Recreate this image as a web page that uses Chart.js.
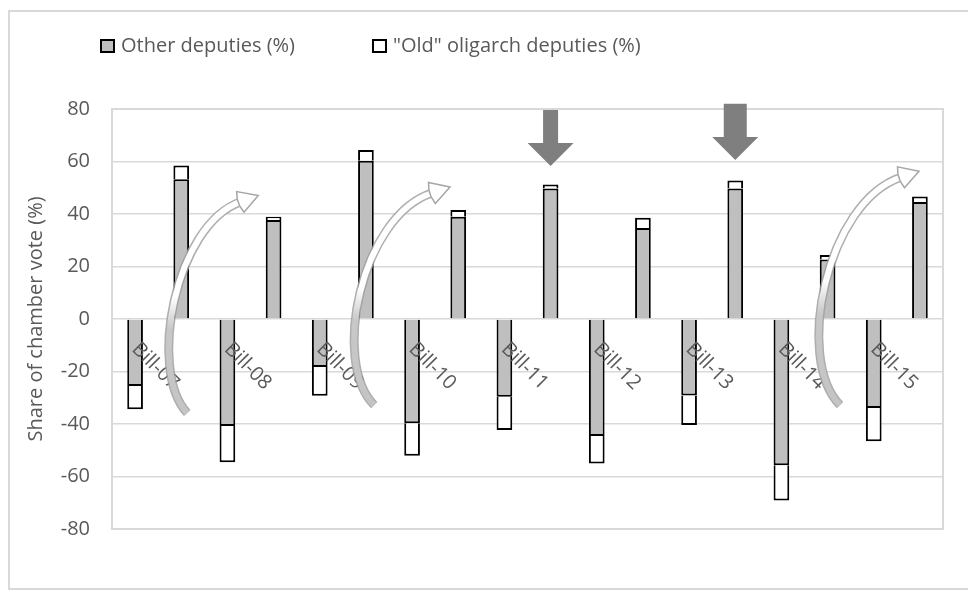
<!DOCTYPE html>
<html>
<head>
<meta charset="utf-8">
<script src="https://cdn.jsdelivr.net/npm/chart.js@4.4.1/dist/chart.umd.min.js"></script>
<style>
  body { margin: 0; background: #fff; overflow: hidden; }
  #frame { position: absolute; left: 8px; top: 10px; width: 1000px; height: 576px; border: 2px solid #d9d9d9; }
  #wrap { position: absolute; left: 0; top: 0; width: 968px; height: 592px; }
</style>
</head>
<body>
<div id="frame"></div>
<div id="wrap"><canvas id="chart" width="968" height="592"></canvas></div>
<script>
// bills, each one has an "against" bar (negative) and a "for" bar (positive)
const bills = ['Bill-07', 'Bill-08', 'Bill-09', 'Bill-10', 'Bill-11', 'Bill-12', 'Bill-13', 'Bill-14', 'Bill-15'];
const otherAgainst = [-25.5, -40.8, -18.3, -39.7, -29.6, -44.6, -29.1, -55.7, -33.9];
const oldAgainst = [-8.9, -13.8, -10.9, -12.4, -12.7, -10.4, -11.3, -13.4, -12.7];
const otherFor = [53.2, 37.7, 60.3, 39.0, 49.7, 34.7, 49.7, 22.7, 44.6];
const oldFor = [5.3, 1.3, 4.1, 2.5, 1.5, 3.9, 3.1, 1.7, 2.1];
const seriesNames = ['Other deputies (%)', '"Old" oligarch deputies (%)'];
const yMin = -80, yMax = 80, yStep = 20;

// annotations: block arrows above some "for" bars, curved arrows between bills
const downArrows = [
  { bill: 4, top: 79.6, tip: 58.3, shaft: 15 },
  { bill: 6, top: 82, tip: 60.6, shaft: 23 }
];
const curvedArrows = [
  { bill: 0, tailDx: 0.13, tailV: -35.8, headDx: 1.28, headV: 44.6 },
  { bill: 2, tailDx: 0.18, tailV: -32.8, headDx: 1.43, headV: 48 },
  { bill: 7, tailDx: 0.27, tailV: -32.8, headDx: 1.59, headV: 54 }
];

const FONT = '"Open Sans", "DejaVu Sans", sans-serif';
const TEXT = '#595959';

// two categories per bill: against, for
const labels = bills.flatMap(b => [b, b]);
const otherData = bills.flatMap((b, i) => [otherAgainst[i], otherFor[i]]);
const oldData = bills.flatMap((b, i) => [oldAgainst[i], oldFor[i]]);

const decor = {
  id: 'decor',
  beforeDatasetsDraw(chart) {
    const { ctx, chartArea: a } = chart;
    ctx.save();
    ctx.strokeStyle = '#d9d9d9';
    ctx.lineWidth = 2;
    ctx.strokeRect(a.left, a.top, a.right - a.left, a.bottom - a.top);
    ctx.restore();
  },
  afterDatasetsDraw(chart) {
    const { ctx, scales: { x, y } } = chart;
    const w = x.getPixelForValue(1) - x.getPixelForValue(0);
    const y0 = y.getPixelForValue(0);

    // rotated bill labels under the zero line
    ctx.save();
    ctx.font = '20px ' + FONT;
    ctx.fillStyle = TEXT;
    ctx.textAlign = 'left';
    ctx.textBaseline = 'middle';
    bills.forEach((b, i) => {
      ctx.save();
      ctx.translate(x.getPixelForValue(i * 2), y0 + 27);
      ctx.rotate(Math.PI / 4);
      ctx.fillText(b, 0, 0);
      ctx.restore();
    });
    ctx.restore();

    // block arrows
    ctx.save();
    ctx.fillStyle = '#7f7f7f';
    downArrows.forEach(a => {
      const cx = x.getPixelForValue(a.bill * 2 + 1);
      const top = y.getPixelForValue(a.top);
      const tip = y.getPixelForValue(a.tip);
      const headH = 23, headW = 46, s = a.shaft / 2;
      ctx.beginPath();
      ctx.moveTo(cx - s, top);
      ctx.lineTo(cx + s, top);
      ctx.lineTo(cx + s, tip - headH);
      ctx.lineTo(cx + headW / 2, tip - headH);
      ctx.lineTo(cx, tip);
      ctx.lineTo(cx - headW / 2, tip - headH);
      ctx.lineTo(cx - s, tip - headH);
      ctx.closePath();
      ctx.fill();
    });
    ctx.restore();

    // curved arrows
    curvedArrows.forEach(a => {
      const xc = x.getPixelForValue(a.bill * 2 + 1);
      const tx = xc + a.tailDx * w, ty = y.getPixelForValue(a.tailV);
      const hx = xc + a.headDx * w, hy = y.getPixelForValue(a.headV);
      const dx = hx - tx, dy = hy - ty;
      const c1x = tx - 0.75 * dx, c1y = ty + 0.2 * dy;
      const c2x = tx - 0.23 * dx, c2y = ty + 0.89 * dy;
      const path = () => {
        ctx.beginPath();
        ctx.moveTo(tx, ty);
        ctx.bezierCurveTo(c1x, c1y, c2x, c2y, hx, hy);
      };
      ctx.save();
      ctx.lineCap = 'butt';
      ctx.strokeStyle = 'rgba(160,160,160,0.85)';
      ctx.lineWidth = 9;
      path();
      ctx.stroke();
      const g = ctx.createLinearGradient(0, ty, 0, hy);
      g.addColorStop(0, 'rgb(196,196,196)');
      g.addColorStop(0.4, 'rgb(200,200,200)');
      g.addColorStop(0.55, '#ffffff');
      g.addColorStop(1, '#ffffff');
      ctx.strokeStyle = g;
      ctx.lineWidth = 6;
      path();
      ctx.stroke();
      // head
      const ang = Math.atan2(hy - c2y, hx - c2x);
      const ux = Math.cos(ang), uy = Math.sin(ang);
      const px = -uy, py = ux;
      const L = 19, B = 11;
      ctx.beginPath();
      ctx.moveTo(hx + ux * L, hy + uy * L);
      ctx.lineTo(hx + px * B, hy + py * B);
      ctx.lineTo(hx - ux * 2 + px * 3.5, hy - uy * 2 + py * 3.5);
      ctx.lineTo(hx - ux * 2 - px * 3.5, hy - uy * 2 - py * 3.5);
      ctx.lineTo(hx - px * B, hy - py * B);
      ctx.closePath();
      ctx.fillStyle = '#ffffff';
      ctx.fill();
      ctx.strokeStyle = '#a6a6a6';
      ctx.lineWidth = 1.5;
      ctx.stroke();
      ctx.restore();
    });
  },
  afterDraw(chart) {
    // legend
    const { ctx } = chart;
    ctx.save();
    ctx.font = '20px ' + FONT;
    ctx.textBaseline = 'middle';
    ctx.textAlign = 'left';
    let lx = 101;
    const ly = 46;
    chart.data.datasets.forEach(ds => {
      ctx.fillStyle = ds.backgroundColor;
      ctx.fillRect(lx, ly - 6, 13, 12);
      ctx.strokeStyle = '#000';
      ctx.lineWidth = 2;
      ctx.strokeRect(lx, ly - 6, 13, 12);
      ctx.fillStyle = TEXT;
      ctx.fillText(ds.label, lx + 20, ly);
      lx += 20 + ctx.measureText(ds.label).width + 78;
    });
    ctx.restore();
  }
};

new Chart(document.getElementById('chart'), {
  type: 'bar',
  data: {
    labels: labels,
    datasets: [
      { label: seriesNames[0], data: otherData, backgroundColor: '#bfbfbf', borderColor: '#000', borderWidth: 2 },
      { label: seriesNames[1], data: oldData, backgroundColor: '#ffffff', borderColor: '#000', borderWidth: 2 }
    ]
  },
  options: {
    responsive: false,
    animation: false,
    devicePixelRatio: 1,
    layout: { padding: { top: 109, right: 25, bottom: 63, left: 0 } },
    datasets: { bar: { categoryPercentage: 1, barPercentage: 0.34 } },
    plugins: { legend: { display: false }, tooltip: { enabled: false } },
    scales: {
      x: { stacked: true, display: false },
      y: {
        stacked: true,
        min: yMin,
        max: yMax,
        ticks: { stepSize: yStep, color: TEXT, padding: 22, font: { family: FONT, size: 20 } },
        grid: { color: '#d9d9d9', lineWidth: 1.5, drawTicks: false },
        border: { display: false },
        title: {
          display: true,
          text: 'Share of chamber vote (%)',
          color: TEXT,
          font: { family: FONT, size: 20 },
          padding: { top: 24, bottom: 0 }
        },
        afterFit(scale) { scale.width = 112; }
      }
    }
  },
  plugins: [decor]
});
</script>
</body>
</html>
